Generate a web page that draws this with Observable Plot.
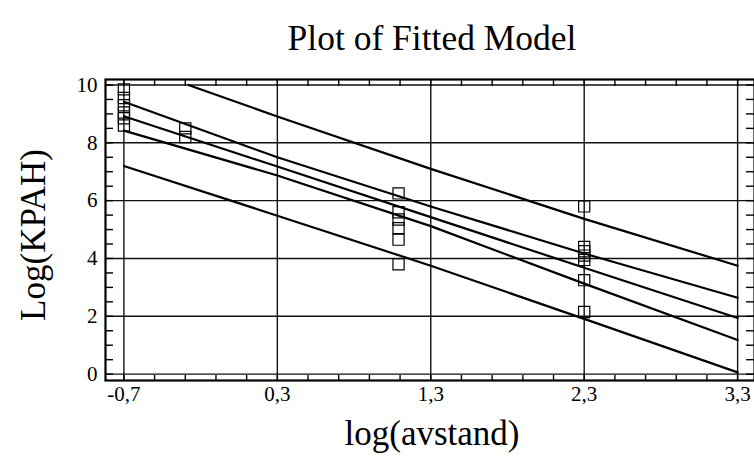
<!DOCTYPE html>
<html><head><meta charset="utf-8">
<script src="https://cdn.jsdelivr.net/npm/d3@7"></script>
<script src="https://cdn.jsdelivr.net/npm/@observablehq/plot@0.6"></script>
<style>body{margin:0;background:#fff;} svg{display:block;}</style>
</head><body><div id="chart"></div>
<script>
// Observations
const obsX = [-0.7,-0.7,-0.7,-0.7,-0.7,-0.7, -0.3,-0.3, 1.09,1.09,1.09,1.09,1.09,1.09, 2.3,2.3,2.3,2.3,2.3,2.3,2.3];
const obsY = [9.85,9.55,9.3,9.05,8.85,8.6, 8.5,8.2, 6.25,5.6,5.35,5.05,4.65,3.8, 5.8,4.4,4.25,4.1,3.95,3.25,2.15];
// Fitted line and limits
const bandX = [-0.7, 0.3, 1.3, 2.3, 3.3];
const fitted = [8.92, 7.18, 5.43, 3.68, 1.94];
const upperConf = [9.42, 7.50, 5.80, 4.17, 2.64];
const lowerConf = [8.42, 6.87, 5.12, 3.13, 1.18];
const lowerPred = [7.20, 5.48, 3.75, 1.91, 0.06];
const upperPredX = [-0.28, 0.3, 1.3, 2.3, 3.3];
const upperPred = [10.0, 8.91, 7.1, 5.37, 3.75];
// Ticks
const xTicks = [-0.7, 0.3, 1.3, 2.3, 3.3];
const yTicks = [0, 2, 4, 6, 8, 10];
const xMinor = d3.range(-0.7, 3.31, 0.2);
const yMinor = d3.range(0, 10.01, 0.5);

const W = 754, H = 456, mL = 105, mR = 0, mT = 79, mB = 76;
const fw = W - mL - mR, fh = H - mT - mB;
const obs = obsX.map((x, i) => ({x, y: obsY[i]}));
const series = [fitted, upperConf, lowerConf, lowerPred].map(v => v.map((y, i) => ({x: bandX[i], y})));
series.push(upperPred.map((y, i) => ({x: upperPredX[i], y})));
const fmt = d => d.toFixed(1).replace(".", ",");
const font = "Liberation Serif, Times New Roman, serif";

const chart = Plot.plot({
  width: W, height: H,
  marginLeft: mL, marginRight: mR, marginTop: mT, marginBottom: mB,
  style: {fontFamily: font, background: "#fff", color: "#000"},
  x: {domain: [-0.82, 3.41], axis: null},
  y: {domain: [-0.22, 10.19], axis: null},
  marks: [
    Plot.ruleX(xTicks, {stroke: "#111", strokeWidth: 1.4}),
    Plot.ruleY(yTicks, {stroke: "#111", strokeWidth: 1.4}),
    Plot.ruleY(yMinor, {insetRight: fw - 8, stroke: "#000", strokeWidth: 1.4}),
    Plot.ruleY(yMinor, {insetLeft: fw - 8, stroke: "#000", strokeWidth: 1.4}),
    Plot.ruleX(xMinor, {insetBottom: fh - 7, stroke: "#000", strokeWidth: 1.4}),
    Plot.ruleX(xMinor, {insetTop: fh - 5, stroke: "#000", strokeWidth: 1.4}),
    ...series.map(s => Plot.line(s, {x: "x", y: "y", stroke: "#000", strokeWidth: 2.2})),
    Plot.dot(obs, {x: "x", y: "y", symbol: "square", r: 6.3, stroke: "#000", strokeWidth: 1.2, fill: "none"}),
    Plot.frame({stroke: "#000", strokeWidth: 2.2}),
    Plot.text(xTicks, {x: d => d, frameAnchor: "bottom", lineAnchor: "middle", dy: 14, text: fmt, fontSize: 21, fill: "#000"}),
    Plot.text(yTicks, {y: d => d, frameAnchor: "left", dx: -8, text: d => String(d), textAnchor: "end", fontSize: 21, fill: "#000"}),
    Plot.text(["Plot of Fitted Model"], {frameAnchor: "top", lineAnchor: "middle", dy: -41, dx: 2, fontSize: 35.5, textAnchor: "middle", fill: "#000"}),
    Plot.text(["log(avstand)"], {frameAnchor: "bottom", lineAnchor: "middle", dy: 53, dx: 2, fontSize: 35, textAnchor: "middle", fill: "#000"}),
    Plot.text(["Log(KPAH)"], {frameAnchor: "left", dx: -72, dy: 5, rotate: -90, fontSize: 35, textAnchor: "middle", fill: "#000"})
  ]
});
document.getElementById("chart").appendChild(chart);
</script></body></html>
